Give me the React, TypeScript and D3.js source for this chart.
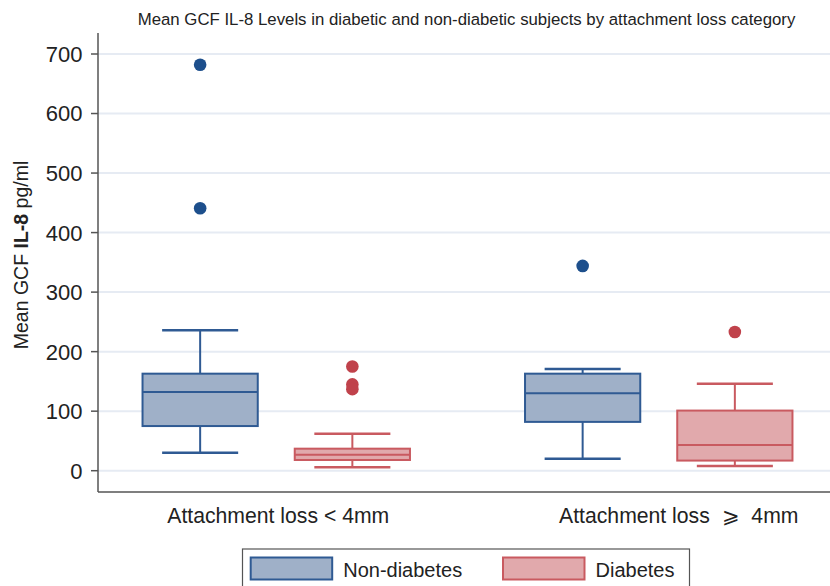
import React from "react";
import * as d3 from "d3";

const groups = ["Attachment loss < 4mm", "Attachment loss ⩾ 4mm"];
const seriesNames = ["Non-diabetes", "Diabetes"];
const yTicks = [0, 100, 200, 300, 400, 500, 600, 700];

const nonDiabetesLow = [30, 20];
const nonDiabetesQ1 = [75, 82];
const nonDiabetesMedian = [132, 130];
const nonDiabetesQ3 = [163, 163];
const nonDiabetesHigh = [236, 171];
const nonDiabetesOutliers = [[682, 441], [344]];

const diabetesLow = [6, 8];
const diabetesQ1 = [18, 17];
const diabetesMedian = [27, 43];
const diabetesQ3 = [37, 101];
const diabetesHigh = [62, 146];
const diabetesOutliers = [[175, 145, 137], [233]];

const W = 830;
const H = 586;
const FONT = "'Liberation Sans', Arial, Helvetica, sans-serif";

const styles = [
  { fill: "#9fb0c8", stroke: "#2f5a93", dot: "#1d4f8c" },
  { fill: "#e1a9ac", stroke: "#c95a60", dot: "#c0424b" },
];
const labelShift = [2, 20];

type Box = { group: string; series: string; low: number; q1: number; med: number; q3: number; high: number; out: number[]; si: number };

const boxes: Box[] = [];
groups.forEach((g, gi) => {
  boxes.push({ group: g, series: seriesNames[0], si: 0, low: nonDiabetesLow[gi], q1: nonDiabetesQ1[gi], med: nonDiabetesMedian[gi], q3: nonDiabetesQ3[gi], high: nonDiabetesHigh[gi], out: nonDiabetesOutliers[gi] });
  boxes.push({ group: g, series: seriesNames[1], si: 1, low: diabetesLow[gi], q1: diabetesQ1[gi], med: diabetesMedian[gi], q3: diabetesQ3[gi], high: diabetesHigh[gi], out: diabetesOutliers[gi] });
});

export default function App() {
  const plotLeft = 98;
  const plotRight = 830;
  const plotBottom = 492;
  const plotTop = 33;
  const y = d3.scaleLinear().domain([0, 700]).range([470.7, 54]);
  const x0 = d3.scaleBand().domain(groups).range([85, 850]).padding(0);
  const x1 = d3.scaleBand().domain(seriesNames).range([0, x0.bandwidth()]).paddingInner(0.243).paddingOuter(0.378);
  const bw = x1.bandwidth();
  const capW = bw * 0.66;

  return (
    <div style={{ position: "fixed", left: 0, top: 0 }}>
      <svg width={W} height={H} style={{ display: "block", background: "#fff" }} fontFamily={FONT}>
        <text x={466.5} y={25} textAnchor="middle" fontSize={16.8} fill="#222">
          Mean GCF IL-8 Levels in diabetic and non-diabetic subjects by attachment loss category
        </text>
        {yTicks.map((t) => (
          <g key={t}>
            <line x1={plotLeft} x2={plotRight} y1={y(t)} y2={y(t)} stroke="#e6ebf3" strokeWidth={2} />
            <line x1={91} x2={plotLeft} y1={y(t)} y2={y(t)} stroke="#555" strokeWidth={1.5} />
            <text x={82.5} y={y(t)} dy="0.36em" textAnchor="end" fontSize={22} fill="#222">{t}</text>
          </g>
        ))}
        <line x1={plotLeft} x2={plotLeft} y1={plotTop} y2={plotBottom} stroke="#555" strokeWidth={1.5} />
        <line x1={plotLeft} x2={plotRight} y1={plotBottom} y2={plotBottom} stroke="#555" strokeWidth={1.5} />
        <text transform={`translate(28,255) rotate(-90)`} textAnchor="middle" fontSize={19.5} fill="#222">
          Mean GCF <tspan fontWeight="bold">IL-8</tspan> pg/ml
        </text>
        {boxes.map((b, i) => {
          const cx = (x0(b.group) as number) + (x1(b.series) as number) + bw / 2;
          const left = cx - bw / 2;
          const st = styles[b.si];
          return (
            <g key={i}>
              <line x1={cx} x2={cx} y1={y(b.high)} y2={y(b.q3)} stroke={st.stroke} strokeWidth={2} />
              <line x1={cx} x2={cx} y1={y(b.q1)} y2={y(b.low)} stroke={st.stroke} strokeWidth={2} />
              <line x1={cx - capW / 2} x2={cx + capW / 2} y1={y(b.high)} y2={y(b.high)} stroke={st.stroke} strokeWidth={2.5} />
              <line x1={cx - capW / 2} x2={cx + capW / 2} y1={y(b.low)} y2={y(b.low)} stroke={st.stroke} strokeWidth={2.5} />
              <rect x={left} width={bw} y={y(b.q3)} height={y(b.q1) - y(b.q3)} fill={st.fill} stroke={st.stroke} strokeWidth={2} />
              <line x1={left} x2={left + bw} y1={y(b.med)} y2={y(b.med)} stroke={st.stroke} strokeWidth={2} />
              {b.out.map((o, j) => (
                <circle key={j} cx={cx} cy={y(o)} r={6.3} fill={st.dot} />
              ))}
            </g>
          );
        })}
        {groups.map((g, gi) => (
          <text key={g} x={(x0(g) as number) + x0.bandwidth() / 2 + labelShift[gi]} y={523} textAnchor="middle" fontSize={21.2} fill="#222" style={{ whiteSpace: "pre" }}>
            {gi === 1 ? g.replace(" ⩾ ", "  ⩾  ") : g}
          </text>
        ))}
        <rect x={242.5} y={549} width={447} height={60} fill="#fff" stroke="#555" strokeWidth={1.2} />
        {seriesNames.map((s, i) => {
          const sx = [250.7, 503][i];
          return (
            <g key={s}>
              <rect x={sx} y={557.5} width={81.5} height={22} fill={styles[i].fill} stroke={styles[i].stroke} strokeWidth={2} />
              <text x={sx + 92.5} y={577} fontSize={20} fill="#222">{s}</text>
            </g>
          );
        })}
      </svg>
    </div>
  );
}
